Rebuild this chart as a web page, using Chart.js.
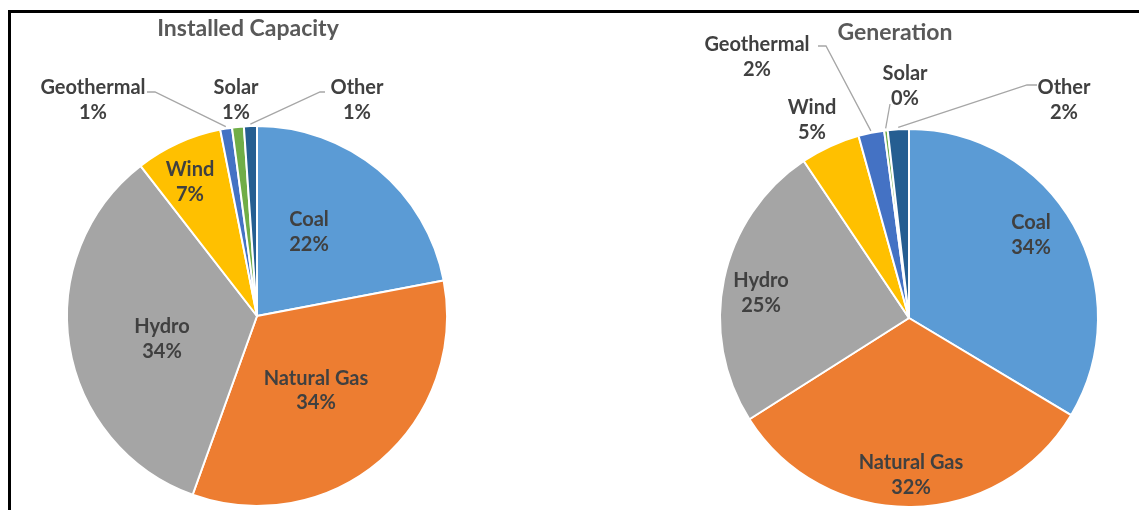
<!DOCTYPE html>
<html><head><meta charset="utf-8">
<script src="https://cdn.jsdelivr.net/npm/chart.js@4.4.1/dist/chart.umd.min.js"></script>
<style>
html,body{margin:0;padding:0;background:#fff;width:1139px;height:510px;overflow:hidden}
#frame{position:absolute;left:8px;top:10px;width:1300px;height:700px;border-top:3px solid #000;border-left:3px solid #000;box-sizing:border-box}
canvas{position:absolute;left:0;top:0}
</style></head><body>
<div id="frame"></div>
<canvas id="c1" width="1139" height="510"></canvas>
<canvas id="c2" width="1139" height="510"></canvas>
<script>
const categories = ['Coal','Natural Gas','Hydro','Wind','Geothermal','Solar','Other'];
const capacityValues = [22.0, 33.5, 34.0, 7.4, 1.0, 1.0, 1.1];
const generationValues = [33.6, 32.4, 24.6, 5.1, 2.2, 0.3, 1.8];
const sliceColors = ['#5B9BD5','#ED7D31','#A5A5A5','#FFC000','#4472C4','#70AD47','#255E91'];
const chartTitles = ['Installed Capacity','Generation'];

const capacityLayout = [
  {dx:52, dy:-85.5}, {dx:59, dy:73}, {dx:-95, dy:21.5}, {dx:-67, dy:-135.5},
  {dx:-164, dy:-217.5, leader:{sx:54, sy:-6.5, kx:62}},
  {dx:-21, dy:-217.5},
  {dx:100, dy:-217.5, leader:{sx:-32, sy:-6.5, kx:-37}}
];
const generationLayout = [
  {dx:122, dy:-84.5}, {dx:2, dy:155.5}, {dx:-148, dy:-26.5},
  {dx:-97, dy:-199.5},
  {dx:-152, dy:-262.5, leader:{sx:61, sy:-9.5, kx:69}},
  {dx:-4, dy:-233.5, leader:{sx:-15, sy:19.5}},
  {dx:155, dy:-219.5, leader:{sx:-27, sy:-13.5, kx:-37}}
];

const labelPlugin = {
  id:'pieLabels',
  afterDatasetsDraw(chart, args, opts){
    const ctx = chart.ctx;
    const meta = chart.getDatasetMeta(0);
    const data = chart.data.datasets[0].data;
    const total = data.reduce((a,b)=>a+b,0);
    const cx = meta.data[0].x, cy = meta.data[0].y;
    ctx.save();
    ctx.textAlign='center'; ctx.textBaseline='middle';
    ctx.font = 'bold 23px Lato'; ctx.fillStyle = '#595959';
    ctx.fillText(opts.title, cx+opts.titleDx, cy+opts.titleDy+2);
    meta.data.forEach((arc,i)=>{
      const L = opts.layout[i];
      const lx = cx+L.dx, ly = cy+L.dy;
      if(L.leader){
        const a = (arc.startAngle+arc.endAngle)/2;
        const r = arc.outerRadius+2;
        ctx.beginPath();
        ctx.moveTo(lx+L.leader.sx, ly+L.leader.sy);
        if(L.leader.kx!==undefined) ctx.lineTo(lx+L.leader.kx, ly+L.leader.sy);
        ctx.lineTo(cx+Math.cos(a)*r, cy+Math.sin(a)*r);
        ctx.strokeStyle='#A6A6A6'; ctx.lineWidth=1.3; ctx.stroke();
      }
      ctx.fillStyle='#404040'; ctx.font='bold 20px Lato';
      ctx.fillText(chart.data.labels[i], lx, ly-10.5);
      ctx.fillText(Math.round(data[i]/total*100)+'%', lx, ly+14);
    });
    ctx.restore();
  }
};

function makePie(id, values, radius, padding, title, tdx, tdy, layout){
  return new Chart(document.getElementById(id), {
    type:'pie',
    data:{labels:categories, datasets:[{data:values, backgroundColor:sliceColors, borderColor:'#ffffff', borderWidth:2}]},
    options:{
      responsive:false, animation:false, radius:radius,
      layout:{padding:padding},
      plugins:{legend:{display:false}, tooltip:{enabled:false},
        pieLabels:{title:title, titleDx:tdx, titleDy:tdy, layout:layout}}
    },
    plugins:[labelPlugin]
  });
}
makePie('c1', capacityValues, 190, {left:67,right:692,top:126,bottom:4}, chartTitles[0], -9, -289, capacityLayout);
makePie('c2', generationValues, 189, {left:720,right:41,top:129,bottom:3}, chartTitles[1], -14, -287, generationLayout);
</script>
</body></html>
